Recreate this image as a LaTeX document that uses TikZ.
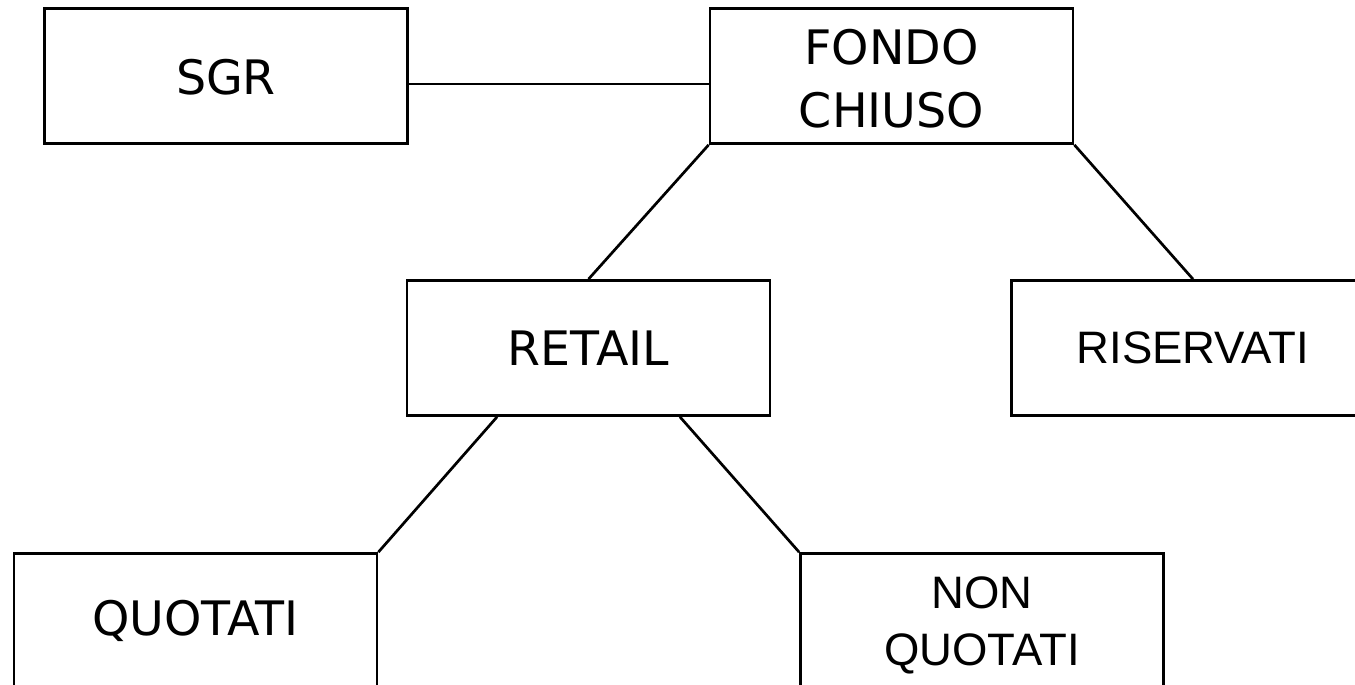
\documentclass[tikz,border=0pt]{standalone}
\usepackage{fontspec}
\usetikzlibrary{calc}
\newfontfamily\verd{DejaVu Sans}
\newfontfamily\ari{Liberation Sans}
\begin{document}
\begin{tikzpicture}[x=1pt,y=-1pt,
  box/.style={draw=black,line width=2.7pt,minimum width=363pt,minimum height=135pt,
    inner sep=0pt,align=center,fill=white},
  vfont/.style={font=\verd\fontsize{47.5}{63}\selectfont},
  afont/.style={font=\ari\fontsize{45.5}{57}\selectfont},
  caption/.style={inner sep=0pt,align=center},
  link/.style={draw=black,line width=2.7pt}]
\clip (0,0) rectangle (1355,685);
\fill[white] (0,0) rectangle (1355,685);

% boxes of the tree
\node[box] (sgr) at (226,76) {};
\node[caption,vfont] (sgrtxt) at ([yshift=-1.5pt]sgr.center) {SGR};
\node[box] (fondo) at (891.5,76) {};
\node[caption,vfont] (fondotxt) at ([yshift=-3pt]fondo.center) {FONDO\\CHIUSO};
\node[box,vfont] (retail) at (588.5,348) {RETAIL};
\node[box,afont] (riserv) at (1193,348) {RISERVATI};
\node[box,vfont] (quot) at (195.5,621) {QUOTATI};
\node[box] (nonquot) at (982,621) {};
\node[caption,afont] (nonquottxt) at ([yshift=-4pt]nonquot.center) {NON\\QUOTATI};

% connectors
\draw[link] ([yshift=-8pt]sgr.east) -- ([yshift=-8pt]fondo.west);
\draw[link] (fondo.south west) -- (retail.north);
\draw[link] (fondo.south east) -- (riserv.north);
\draw[link] ($(retail.south west)!0.25!(retail.south east)$) -- (quot.north east);
\draw[link] ($(retail.south west)!0.75!(retail.south east)$) -- (nonquot.north west);
\end{tikzpicture}
\end{document}
